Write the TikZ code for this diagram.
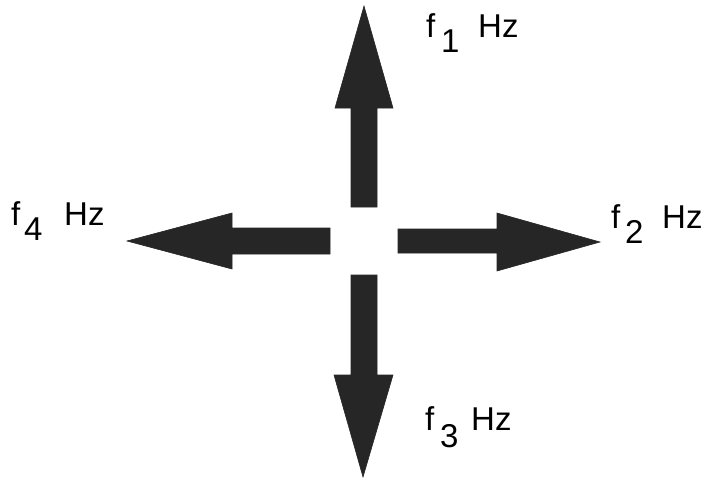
\documentclass[tikz,border=0pt]{standalone}
\usepackage{fontspec}
\setmainfont{Liberation Sans}
\begin{document}
\begin{tikzpicture}[x=1pt,y=-1pt,
  bigarrow/.style={fill=black!85, draw=black!85, line width=0.6pt, line join=miter},
  lbl/.style={anchor=base west, inner sep=0pt, font=\fontsize{33}{36}\selectfont},
  sub/.style={anchor=base west, inner sep=0pt, font=\fontsize{33}{36}\selectfont}]
\useasboundingbox (0,0) rectangle (718,487);
% up arrow
\fill[bigarrow] (364,6) -- (393,108) -- (377,108) -- (377,207) -- (351,207) -- (351,108) -- (335,108) -- cycle;
% down arrow
\fill[bigarrow] (363,477) -- (393,375) -- (377,375) -- (377,275) -- (351,275) -- (351,375) -- (334,375) -- cycle;
% left arrow
\fill[bigarrow] (127,241) -- (232,213) -- (232,228) -- (330,228) -- (330,254) -- (232,254) -- (232,269) -- cycle;
% right arrow
\fill[bigarrow] (600,242) -- (497,213) -- (497,229) -- (398,229) -- (398,253) -- (497,253) -- (497,271) -- cycle;
% labels
\node[lbl] (f1) at (426,38) {f};
\node[sub] (s1) at (441,53) {1};
\node[lbl] (h1) at (478,38) {Hz};
\node[lbl] (f2) at (611,228) {f};
\node[sub] (s2) at (625,243) {2};
\node[lbl] (h2) at (662,228) {Hz};
\node[lbl] (f3) at (425,430) {f};
\node[sub] (s3) at (440,447) {3};
\node[lbl] (h3) at (471,430) {Hz};
\node[lbl] (f4) at (11,225) {f};
\node[sub] (s4) at (24,240) {4};
\node[lbl] (h4) at (64,225) {Hz};
\end{tikzpicture}
\end{document}
